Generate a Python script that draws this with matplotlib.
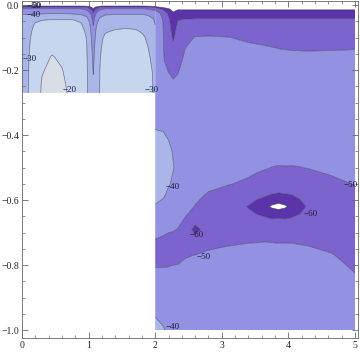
import numpy as np
import matplotlib
matplotlib.use("Agg")
import matplotlib.pyplot as plt
from matplotlib.ticker import MultipleLocator

# ---- data ----
levels = [-70, -60, -50, -40, -30, -20, 0]
fill_colors = ["#5b34a9", "#7c64cf", "#9391e1", "#a9b6e7", "#c6d6ef", "#d9dee6"]

# right block: x in [2,5], y in [-1,0]
x_right = [2.0, 2.12, 2.2, 2.27, 2.34, 2.45, 2.6, 2.8, 3.1, 3.4, 3.52, 3.65, 3.75, 3.85,
           3.95, 4.05, 4.17, 4.3, 4.65, 5.0]
y_right = [0, -0.012, -0.025, -0.045, -0.07, -0.1, -0.13, -0.17, -0.22, -0.3, -0.38, -0.45,
           -0.5, -0.55, -0.59, -0.62, -0.65, -0.69, -0.73, -0.77, -0.81, -0.87, -0.94, -1.0]
z_right_cols = [
    [-80, -52, -45, -42.5, -42, -41.8, -41.7, -41.6, -41.5, -41, -40.1, -37.5, -37, -37.5, -39, -40.3, -43.5, -47.5, -50.8, -53, -49.8, -45, -41, -38],
    [-82, -62, -53, -50.5, -50, -49.7, -49.6, -49.3, -47, -42, -40.3, -38, -37.5, -38, -39.6, -42, -45, -48.5, -51.5, -53.5, -49.8, -46, -42, -39.5],
    [-84, -68, -62, -58, -57, -56, -55, -53, -49, -44, -41, -39, -38.5, -39.5, -41.5, -43.5, -46, -49.3, -52, -54, -49.5, -46.5, -43, -41],
    [-86, -74, -68, -66, -63.5, -61, -58.5, -55, -50.5, -45.5, -41.5, -40.3, -39.8, -40.8, -43, -45, -47.5, -49.5, -52.5, -54.5, -48.5, -46.5, -44, -42.5],
    [-85, -71, -65, -60.3, -58, -56.5, -55, -53, -49.5, -45.5, -42.5, -41.5, -41.2, -42, -44, -45.5, -47.5, -50.2, -53.5, -55, -48, -46, -44, -43],
    [-85, -71, -65, -59.5, -55.5, -52.5, -50.2, -48, -46.5, -45, -44, -43.5, -43.5, -44.5, -46, -47.5, -49.7, -56, -59.5, -50.8, -47.5, -45.5, -44, -43.5],
    [-85, -71, -65, -59, -54.5, -49.5, -47.5, -46.5, -46, -45.5, -45, -45, -45.5, -46.5, -48.8, -50.3, -56, -62, -57.5, -49.8, -47, -45, -44, -43.5],
    [-85, -71, -65, -59, -54.5, -49, -47, -46, -45.5, -45, -45, -45.5, -46.5, -48.5, -51, -53.5, -55.5, -57, -53, -48, -46, -44.5, -43.5, -43],
    [-85, -71, -65, -59, -54.5, -49.7, -47.5, -46.5, -46, -45.5, -45.5, -46.5, -47.5, -49.7, -53, -55, -56, -55.5, -51, -47.5, -46, -44.5, -43.5, -43],
    [-85, -71, -65, -59, -54.5, -51.5, -48.5, -47, -46, -45.5, -46, -47, -48.5, -51, -56.5, -60.5, -58, -55.5, -50.2, -47, -45.5, -44.5, -43.5, -43],
    [-85, -71, -65, -59, -54.5, -51.8, -49, -47.2, -46.2, -45.7, -46.2, -47.2, -49, -52, -58.5, -63.5, -59, -55.5, -50.1, -47, -45.5, -44.5, -43.5, -43],
    [-85, -71, -65, -59, -54.5, -52, -49.5, -47.5, -46.5, -46, -46.5, -47.5, -49.5, -53.5, -60.2, -67, -60.2, -55.5, -49.8, -47, -45.5, -44.5, -43.5, -43],
    [-85, -71, -65, -59, -54.8, -52.3, -49.9, -47.8, -46.8, -46, -46.5, -47.8, -50.1, -54.5, -61.5, -71.5, -61, -56, -50.1, -47, -45.5, -44.5, -43.5, -43],
    [-85, -71, -65, -59, -55, -52.5, -50.2, -48, -47, -46, -46.5, -48, -50.3, -55.5, -62, -74, -60.8, -56, -50.2, -47, -45.5, -44.5, -43.5, -43],
    [-85, -71, -65, -59, -55, -52.6, -50.4, -48, -47, -46.2, -46.7, -48.2, -50.2, -55.2, -61.5, -71.5, -61, -56, -50.2, -47, -45.5, -44.5, -43.5, -43],
    [-85, -71, -65, -59, -55, -52.7, -50.6, -48, -47, -46.5, -47, -48.5, -50.2, -55, -61, -67, -60.5, -55.5, -50.2, -47, -45.5, -44.5, -43.5, -43],
    [-85, -71, -65, -59, -55, -52.7, -50.7, -48, -47, -46.5, -47, -48.5, -50.1, -54, -59, -63.5, -59, -55.5, -50.6, -47.2, -45.5, -44.5, -43.5, -43],
    [-85, -71, -65, -59, -55, -52.8, -50.8, -48, -47, -46.5, -47, -48.5, -49.8, -53, -56.5, -58.5, -57.5, -55, -51, -47.5, -45.5, -44.5, -43.5, -43],
    [-85, -71, -65, -59, -55, -52.6, -50.6, -48, -47, -46.5, -47, -48, -49, -51, -53, -54, -54.5, -54, -52.5, -49.5, -46.5, -45, -44, -43.5],
    [-85, -71, -65, -59, -55, -52.4, -50.4, -48, -47, -46.5, -47, -47.5, -48.5, -49.8, -51.5, -52.5, -53.5, -54, -54, -53, -51, -47, -45, -44],
]

# top-left block: x in [0,2], y in [-0.27,0]
x_left = [0, 0.06, 0.12, 0.2, 0.3, 0.45, 0.6, 0.75, 0.88, 0.97, 1.03, 1.07, 1.11, 1.17,
          1.25, 1.4, 1.55, 1.7, 1.82, 1.9, 1.96, 2.0]
y_left = [0, -0.006, -0.012, -0.02, -0.03, -0.045, -0.06, -0.08, -0.1, -0.13, -0.16, -0.2, -0.24, -0.27]
z_left_cols = [
    [-78, -58, -48, -43, -39.5, -37, -35.5, -34.5, -34, -33.5, -33, -33, -33, -33],
    [-78, -58, -48, -43, -39.5, -36, -34, -33, -32.5, -32, -31.5, -31.5, -31.5, -31.5],
    [-78, -58, -48, -43, -39.5, -35, -32.5, -31, -30.3, -29.8, -29.5, -29.3, -29.2, -29.2],
    [-78, -58, -48, -43, -39, -31.5, -29, -28, -27.5, -26.5, -25.5, -24.5, -23.8, -23.5],
    [-78, -58, -48, -43, -38.5, -30.3, -27.5, -25.5, -24, -22.5, -21.5, -20.5, -19.5, -19.2],
    [-78, -58, -48, -43, -38, -29.8, -26.5, -24, -22.5, -21, -19.7, -18.5, -17.5, -17],
    [-78, -58, -48, -43, -38, -29.8, -26.5, -24, -23, -21.8, -20.8, -19.8, -19, -18.5],
    [-78, -58, -48, -43, -38.5, -29.8, -27.5, -25.5, -24.5, -23.5, -22.8, -22.2, -21.8, -21.5],
    [-78, -58, -48, -43, -39.5, -31, -29.2, -28, -27, -26.5, -26, -25.5, -25.5, -25.5],
    [-79, -60, -52, -46, -42, -36, -32.5, -31, -30.2, -29.5, -29.2, -29, -29, -29],
    [-82, -68, -60, -53, -48, -44, -41.5, -39.5, -38, -36.5, -35.5, -34.5, -34, -33.5],
    [-85, -75, -68, -62, -57.5, -53, -50.3, -47.5, -45.5, -43.5, -42, -40.5, -39, -38.5],
    [-82, -68, -60, -53, -48, -44, -41.5, -39.5, -38, -36.5, -35.5, -34.5, -34, -33.5],
    [-79, -60, -52, -46, -42.5, -38, -35, -33, -31.5, -30.8, -30.3, -29.9, -29.8, -29.8],
    [-78, -58, -48, -43, -40, -36, -33, -30.5, -29, -28, -27.5, -27, -26.8, -26.8],
    [-78, -58, -48, -43, -39.5, -35, -31.5, -29.5, -28, -26.5, -25.5, -25, -24.5, -24.5],
    [-78, -58, -48, -43, -39.5, -35, -31, -29.3, -27.8, -26, -25, -24.3, -24, -24],
    [-78, -58, -48, -43, -39.5, -35, -31.2, -29.5, -28.3, -27, -26.3, -25.8, -25.5, -25.5],
    [-78, -58, -48, -43, -39.5, -36, -32.5, -30.5, -29.5, -28.7, -28.2, -27.8, -27.6, -27.5],
    [-79, -60, -50, -44, -40.5, -37.5, -34, -32, -30.8, -30.1, -29.7, -29.3, -29, -28.8],
    [-80, -62, -52, -46, -42, -39, -36.5, -34, -32.5, -31.2, -30.5, -30.1, -29.8, -29.6],
    [-80, -62, -52, -46, -42.5, -41, -40, -38.5, -37, -35.5, -34.5, -33.5, -32.5, -32],
]

# contour labels: (text, x, y)
label_texts = ["−50", "−60", "−40", "−30", "−20", "−30", "−40", "−50", "−60", "−60", "−50", "−40"]
label_x = [0.17, 0.19, 0.17, 0.12, 0.72, 1.95, 2.26, 4.93, 4.34, 2.62, 2.73, 2.26]
label_y = [-0.003, -0.001, -0.029, -0.167, -0.262, -0.262, -0.559, -0.553, -0.644, -0.707, -0.775, -0.992]

x_ticks = [0, 1, 2, 3, 4, 5]
y_ticks = [0.0, -0.2, -0.4, -0.6, -0.8, -1.0]

# ---- drawing ----
plt.rcParams["font.family"] = ["Liberation Serif", "DejaVu Serif"]
fig = plt.figure(figsize=(3.61, 3.52), dpi=100)
ax = fig.add_axes([22 / 361, 14 / 352, 336 / 361, 337 / 352])

line_kw = dict(levels=levels[:-1], colors="#3a3a5a", linewidths=0.5, alpha=0.7,
               linestyles="solid")
for xs, ys, cols in ((x_right, y_right, z_right_cols), (x_left, y_left, z_left_cols)):
    X, Y = np.meshgrid(xs, ys)
    Z = np.array(cols, dtype=float).T
    ax.contourf(X, Y, Z, levels=levels, colors=fill_colors, antialiased=True)
    ax.contour(X, Y, Z, **line_kw)

for t, lx, ly in zip(label_texts, label_x, label_y):
    ax.text(lx, ly, t, fontsize=6.5, color="#1c1c3c", ha="center", va="center")

ax.set_xlim(0, 5.045)
ax.set_ylim(-1.0246, 0.013)
ax.set_xticks(x_ticks)
ax.set_yticks(y_ticks)
ax.set_xticklabels([str(v) for v in x_ticks])
ax.set_yticklabels([f"{v:.1f}".replace("-", "−") for v in y_ticks])
ax.xaxis.set_minor_locator(MultipleLocator(0.2))
ax.yaxis.set_minor_locator(MultipleLocator(0.05))
ax.tick_params(which="both", direction="in", top=True, right=True, color="#666666",
               labelsize=7, labelcolor="#222222", pad=2)
ax.tick_params(which="major", length=4, width=0.6)
ax.tick_params(which="minor", length=2, width=0.5)
for s in ax.spines.values():
    s.set_color("#666666")
    s.set_linewidth(0.6)

fig.savefig("out.png", dpi=100)
